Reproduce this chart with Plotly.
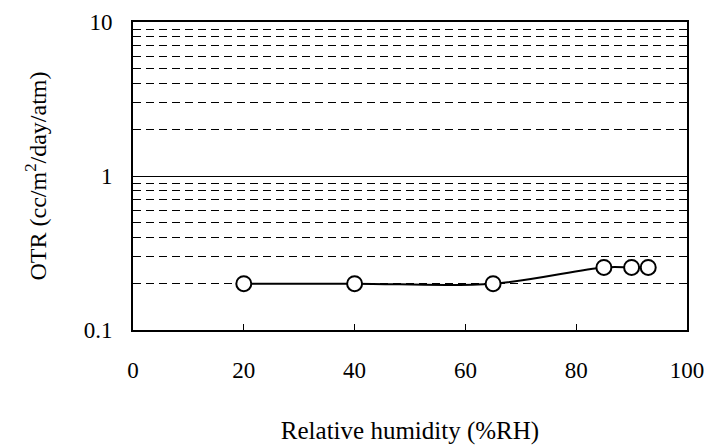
import plotly.graph_objects as go

rh = [20, 40, 65, 85, 90, 93]
otr = [0.2, 0.2, 0.2, 0.255, 0.255, 0.255]

x_ticks = [0, 20, 40, 60, 80, 100]
y_major = [0.1, 1, 10]
y_major_text = ["0.1", "1", "10"]
y_minor = [0.2, 0.3, 0.4, 0.5, 0.6, 0.7, 0.8, 0.9, 2, 3, 4, 5, 6, 7, 8, 9]

font = "Liberation Serif"

fig = go.Figure()
fig.add_trace(go.Scatter(
    x=rh, y=otr, mode="lines+markers",
    line=dict(color="black", width=2, shape="spline", smoothing=1),
    marker=dict(symbol="circle", size=15, color="white",
                line=dict(color="black", width=2)),
    showlegend=False,
))

fig.update_layout(
    width=711, height=446,
    margin=dict(l=133, r=24, t=22, b=116),
    paper_bgcolor="white", plot_bgcolor="white",
    font=dict(family=font, size=23, color="black"),
)
fig.update_xaxes(
    range=[0, 100], tickvals=x_ticks, ticktext=[str(v) for v in x_ticks],
    showgrid=False, zeroline=False, automargin=False,
    showline=True, linecolor="black", linewidth=2, mirror=True,
    ticks="inside", ticklen=6, tickcolor="black", tickwidth=1,
    ticklabelstandoff=18,
    tickfont=dict(family=font, size=23),
    title=dict(text="Relative humidity (%RH)", standoff=40,
               font=dict(family=font, size=25)),
)
fig.update_yaxes(
    type="log", range=[-1, 1],
    tickvals=y_major, ticktext=y_major_text,
    showgrid=True, gridcolor="black", gridwidth=1,
    zeroline=False, automargin=False,
    showline=True, linecolor="black", linewidth=2, mirror=True,
    ticks="", ticklabelstandoff=14,
    tickfont=dict(family=font, size=23),
    minor=dict(tickvals=y_minor, showgrid=True, gridcolor="black",
               gridwidth=1, griddash="8px,5px", ticks=""),
    title=dict(text="OTR (cc/m<sup>2</sup>/day/atm)", standoff=30,
               font=dict(family=font, size=24)),
)

fig.write_html("out.html")
